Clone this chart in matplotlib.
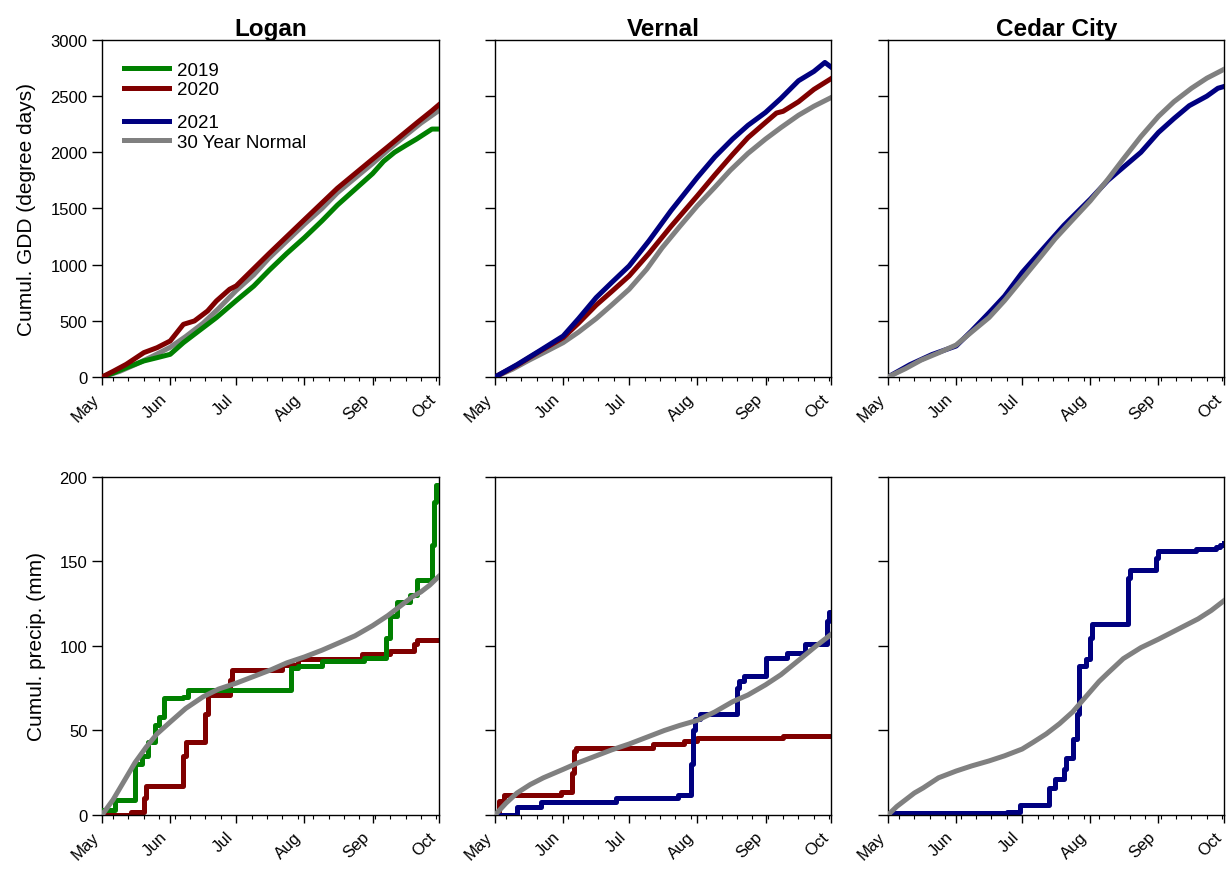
import numpy as np
import matplotlib
matplotlib.use("Agg")
import matplotlib.pyplot as plt
from matplotlib.lines import Line2D

plt.rcParams['font.family'] = ['Liberation Sans', 'DejaVu Sans']

# days since May 1
month_days = [0, 31, 61, 92, 123, 153]
month_names = ["May", "Jun", "Jul", "Aug", "Sep", "Oct"]
sites = ["Logan", "Vernal", "Cedar City"]

c2019 = "#008000"
c2020 = "#800000"
c2021 = "#000080"
cnorm = "#808080"

# ---- cumulative GDD ----
logan_norm_d = [0, 8, 15, 23, 31, 38, 46, 53, 61, 69, 76, 84, 92, 100, 107, 115, 123, 130, 138, 145, 153]
logan_norm_v = [0, 50, 110, 185, 265, 360, 480, 610, 770, 910, 1060, 1210, 1360, 1500, 1640, 1770, 1900, 2020, 2150, 2260, 2370]
logan_2020_d = [0, 5, 11, 19, 25, 31, 37, 42, 48, 52, 58, 61, 76, 92, 107, 123, 130, 136, 143, 150, 153]
logan_2020_v = [0, 50, 113, 217, 261, 321, 469, 499, 588, 677, 781, 811, 1100, 1400, 1680, 1939, 2050, 2147, 2260, 2370, 2420]
logan_2019_d = [0, 5, 11, 19, 25, 31, 37, 45, 52, 61, 69, 76, 84, 92, 100, 107, 115, 123, 128, 133, 138, 143, 150, 153]
logan_2019_v = [0, 35, 83, 143, 172, 202, 306, 425, 529, 680, 810, 950, 1100, 1240, 1390, 1530, 1670, 1810, 1920, 2000, 2060, 2118, 2207, 2207]

vernal_norm_d = [0, 8, 15, 23, 31, 38, 46, 53, 61, 69, 76, 84, 92, 100, 107, 115, 123, 130, 138, 145, 153]
vernal_norm_v = [0, 70, 145, 225, 306, 400, 520, 640, 781, 960, 1150, 1340, 1524, 1690, 1840, 1990, 2118, 2220, 2330, 2410, 2489]
vernal_2020_d = [0, 10, 20, 31, 38, 46, 53, 61, 70, 80, 92, 100, 108, 115, 123, 128, 131, 138, 145, 153]
vernal_2020_v = [0, 105, 225, 350, 480, 640, 760, 900, 1100, 1340, 1613, 1800, 1980, 2130, 2266, 2350, 2365, 2450, 2560, 2658]
vernal_2021_d = [0, 10, 20, 31, 38, 46, 53, 61, 70, 80, 92, 100, 108, 115, 123, 130, 138, 145, 150, 153]
vernal_2021_v = [0, 110, 230, 365, 520, 707, 840, 989, 1212, 1480, 1776, 1960, 2118, 2240, 2355, 2480, 2637, 2720, 2800, 2756]

cedar_norm_d = [0, 8, 15, 23, 31, 38, 46, 53, 61, 69, 76, 84, 92, 100, 107, 115, 123, 130, 138, 145, 153]
cedar_norm_v = [0, 75, 150, 215, 285, 400, 530, 680, 870, 1060, 1230, 1400, 1568, 1760, 1940, 2140, 2320, 2450, 2570, 2660, 2741]
cedar_2021_d = [0, 10, 20, 31, 38, 46, 53, 61, 70, 80, 92, 100, 106, 115, 123, 130, 137, 145, 150, 153]
cedar_2021_v = [0, 110, 200, 276, 410, 573, 720, 930, 1130, 1350, 1583, 1750, 1850, 2000, 2177, 2300, 2415, 2500, 2570, 2587]

# ---- cumulative precipitation (mm) ----
logan_pnorm_d = [0, 5, 10, 15, 20, 25, 31, 38, 46, 53, 61, 69, 77, 84, 92, 100, 108, 115, 123, 130, 136, 141, 145, 149, 153]
logan_pnorm_v = [0, 9, 20, 31, 40, 48, 55, 63, 70, 74.5, 78, 82, 86, 90, 93.5, 97.5, 102, 106, 112, 118, 124, 129, 132, 136, 141]
logan_p2019_d = [0, 6, 15, 18, 21, 24, 26, 28, 37, 39, 86, 89, 100, 119, 129, 131, 134, 140, 143, 150, 151, 152, 153]
logan_p2019_v = [3, 9, 30, 35, 43, 53, 58, 69, 70, 74, 87, 88, 91, 93, 105, 118, 126, 130, 139, 160, 185, 195, 195]
logan_p2020_d = [0, 13, 19, 20, 37, 38, 47, 48, 58, 59, 82, 89, 118, 131, 142, 143, 153]
logan_p2020_v = [0, 2, 10, 17, 35, 43, 60, 71, 80, 86, 89, 92, 95, 97, 101, 103.5, 103.5]

vernal_pnorm_d = [0, 5, 10, 16, 22, 31, 38, 46, 53, 61, 69, 77, 84, 92, 100, 108, 115, 123, 130, 139, 146, 153]
vernal_pnorm_v = [0, 7, 13, 18, 22, 27, 31, 35, 38.5, 42, 46, 50, 53, 56, 61, 67, 71, 77, 83, 92.5, 100, 107]
vernal_p2020_d = [0, 2, 4, 30, 35, 36, 37, 72, 86, 92, 131, 153]
vernal_p2020_v = [2, 8, 12, 13.5, 25, 38, 39.5, 42, 44, 45.5, 46.5, 46.5]
vernal_p2021_d = [0, 10, 21, 55, 83, 89, 90, 91, 93, 110, 111, 113, 123, 133, 141, 151, 152, 153]
vernal_p2021_v = [0, 5, 7.5, 10, 12, 30, 50, 57, 60, 75, 79, 82, 93, 96, 101, 115, 120, 120]

cedar_pnorm_d = [0, 4, 8, 12, 16, 23, 31, 38, 46, 53, 61, 66, 72, 78, 84, 88, 92, 96, 100, 107, 115, 123, 132, 141, 147, 153]
cedar_pnorm_v = [0, 5, 9, 13, 16, 22, 26, 29, 32, 35, 39, 43, 48, 54, 61, 67, 73, 79, 84, 92.5, 99, 104, 110, 116, 121, 127]
cedar_p2021_d = [0, 54, 60, 73, 76, 80, 81, 84, 86, 87, 90, 92, 93, 109, 110, 122, 123, 140, 149, 151, 153]
cedar_p2021_v = [1, 2, 6, 16, 21, 27, 34, 45, 60, 88, 92, 105, 113, 140, 145, 152, 156, 157.5, 158.5, 160, 161]

fig = plt.figure(figsize=(12.28, 8.70), dpi=100)

lefts = [0.0831, 0.4031, 0.7231]
w = 0.2740
top_b, top_h = 0.5655, 0.3874
bot_b, bot_h = 0.0621, 0.3885

lw = 3.6

def style_axis(ax, ymax, ystep, show_labels):
    ax.set_xlim(0, 153)
    ax.set_ylim(0, ymax)
    ax.set_xticks(month_days)
    ax.set_xticklabels(month_names, rotation=45, ha="right", va="top")
    ax.set_xticks(np.arange(5, 153, 7), minor=True)
    ax.set_yticks(np.arange(0, ymax + 1, ystep))
    if not show_labels:
        ax.set_yticklabels([])
    ax.tick_params(axis="x", which="major", length=6, width=1, labelsize=12, pad=4)
    ax.tick_params(axis="x", which="minor", length=3, width=0.8)
    ax.tick_params(axis="y", which="major", length=7, width=1, labelsize=12)
    for s in ax.spines.values():
        s.set_linewidth(1)

top_axes = [fig.add_axes([l, top_b, w, top_h]) for l in lefts]
bot_axes = [fig.add_axes([l, bot_b, w, bot_h]) for l in lefts]

# top row: GDD
ax = top_axes[0]
ax.plot(logan_norm_d, logan_norm_v, color=cnorm, lw=lw, zorder=2)
ax.plot(logan_2019_d, logan_2019_v, color=c2019, lw=lw, zorder=3)
ax.plot(logan_2020_d, logan_2020_v, color=c2020, lw=lw, zorder=3)

ax = top_axes[1]
ax.plot(vernal_norm_d, vernal_norm_v, color=cnorm, lw=lw, zorder=2)
ax.plot(vernal_2020_d, vernal_2020_v, color=c2020, lw=lw, zorder=3)
ax.plot(vernal_2021_d, vernal_2021_v, color=c2021, lw=lw, zorder=3)

ax = top_axes[2]
ax.plot(cedar_2021_d, cedar_2021_v, color=c2021, lw=lw, zorder=2)
ax.plot(cedar_norm_d, cedar_norm_v, color=cnorm, lw=lw, zorder=3)

for i, ax in enumerate(top_axes):
    style_axis(ax, 3000, 500, i == 0)
    ax.set_title(sites[i], fontsize=17.5, fontweight="bold", pad=3)
top_axes[0].set_ylabel("Cumul. GDD (degree days)", fontsize=15, labelpad=10)

# bottom row: precipitation
ax = bot_axes[0]
ax.plot(logan_p2020_d, logan_p2020_v, color=c2020, lw=lw, drawstyle="steps-post", zorder=2)
ax.plot(logan_p2019_d, logan_p2019_v, color=c2019, lw=lw, drawstyle="steps-post", zorder=3)
ax.plot(logan_pnorm_d, logan_pnorm_v, color=cnorm, lw=lw, zorder=4)

ax = bot_axes[1]
ax.plot(vernal_p2020_d, vernal_p2020_v, color=c2020, lw=lw, drawstyle="steps-post", zorder=2)
ax.plot(vernal_p2021_d, vernal_p2021_v, color=c2021, lw=lw, drawstyle="steps-post", zorder=3)
ax.plot(vernal_pnorm_d, vernal_pnorm_v, color=cnorm, lw=lw, zorder=4)

ax = bot_axes[2]
ax.plot(cedar_p2021_d, cedar_p2021_v, color=c2021, lw=lw, drawstyle="steps-post", zorder=2)
ax.plot(cedar_pnorm_d, cedar_pnorm_v, color=cnorm, lw=lw, zorder=3)

for i, ax in enumerate(bot_axes):
    style_axis(ax, 200, 50, i == 0)
bot_axes[0].set_ylabel("Cumul. precip. (mm)", fontsize=15, labelpad=10)

# legend (two groups with a gap)
leg_kw = dict(frameon=False, fontsize=13.5, handlelength=2.4, handletextpad=0.45,
              labelspacing=0.12, borderpad=0, borderaxespad=0, loc="upper left")
h1 = [Line2D([], [], color=c2019, lw=lw), Line2D([], [], color=c2020, lw=lw)]
h2 = [Line2D([], [], color=c2021, lw=lw), Line2D([], [], color=cnorm, lw=lw)]
lg1 = top_axes[0].legend(h1, ["2019", "2020"], bbox_to_anchor=(0.065, 0.935), **leg_kw)
top_axes[0].add_artist(lg1)
top_axes[0].legend(h2, ["2021", "30 Year Normal"], bbox_to_anchor=(0.065, 0.78), **leg_kw)

fig.savefig("out.png", dpi=100)
